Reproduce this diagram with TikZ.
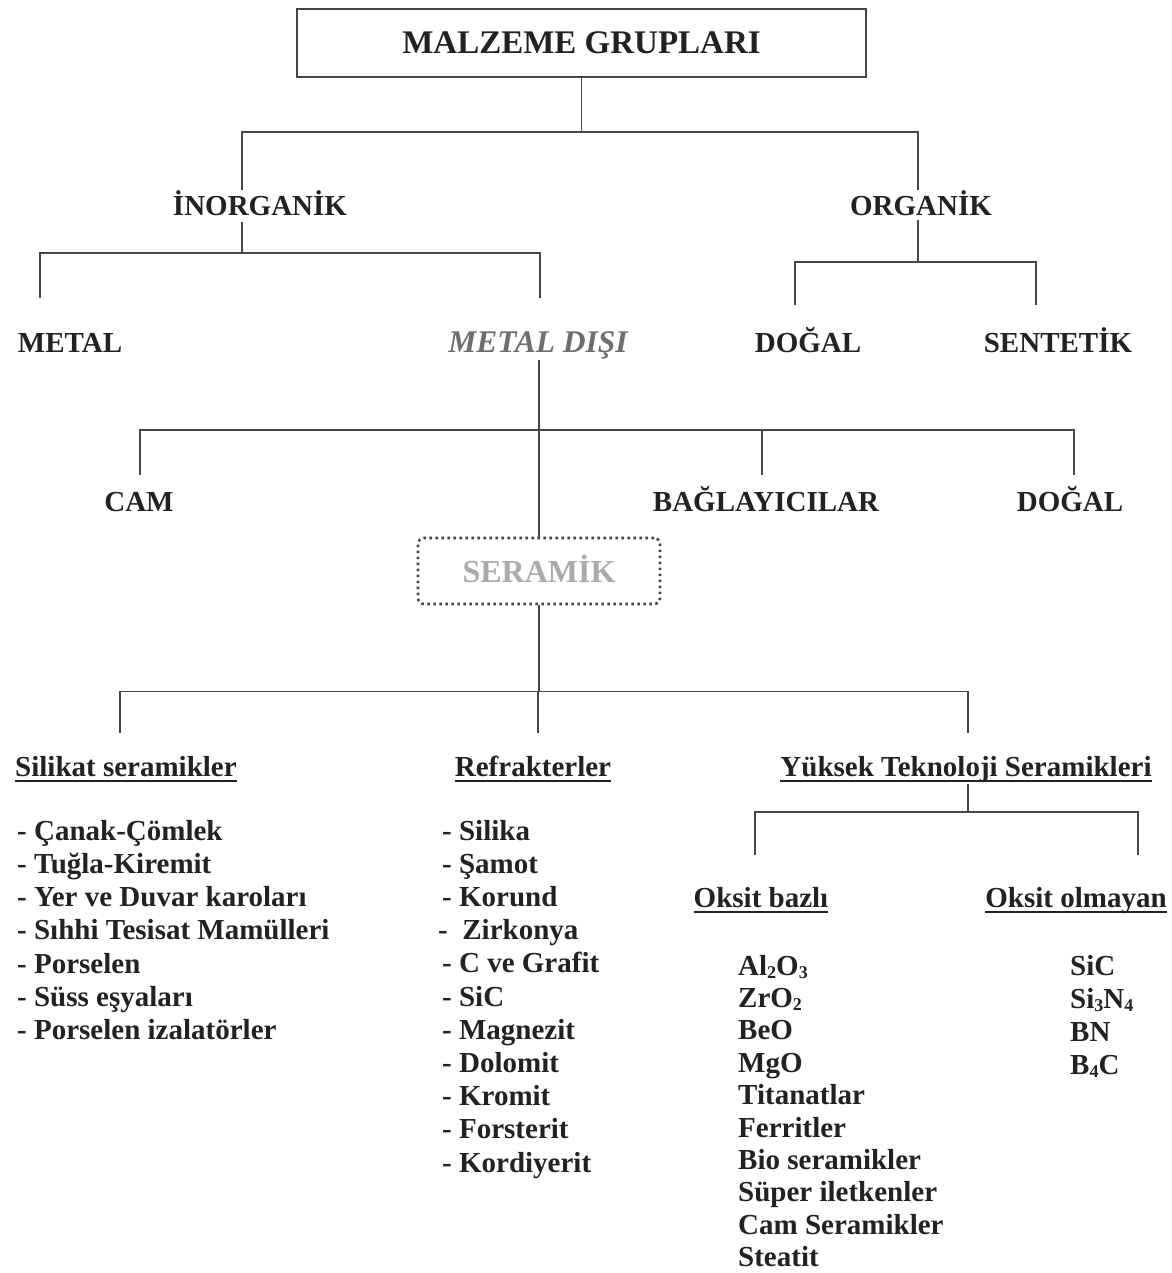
\documentclass[tikz,border=0pt]{standalone}
\usepackage{fontspec}
\setmainfont{Liberation Serif}
\usetikzlibrary{calc}

\definecolor{ink}{HTML}{222222}
\definecolor{wire}{HTML}{464646}
\definecolor{greytext}{HTML}{6E6E6E}
\definecolor{palegrey}{HTML}{AAAAAA}

% small chemical index
\newcommand{\idx}[1]{\raisebox{-3pt}{\fontsize{18}{18}\selectfont #1}}

\begin{document}
\begin{tikzpicture}[x=1pt,y=1pt,
  conn/.style={draw=wire, line width=1.6pt},
  lbl/.style={font=\fontsize{29}{33}\selectfont\bfseries, text=ink,
    inner xsep=0pt, inner ysep=0pt, text height=20pt, text depth=0pt, anchor=base},
  item/.style={lbl, anchor=base west},
  ulin/.style={draw=ink, line width=1.8pt},
]
\fill[white] (0,0) rectangle (1171,-1273);
\useasboundingbox (0,0) rectangle (1171,-1273);

% root
\node[draw=wire, line width=2pt, minimum width=569pt, minimum height=68pt, inner sep=0pt,
      text height=22pt, text depth=0pt,
      font=\fontsize{33}{36}\selectfont\bfseries, text=ink] (top) at (581.5,-43) {MALZEME GRUPLARI};

% first and second level
\node[lbl] (inorg) at (260,-216) {İNORGANİK};
\node[lbl] (org) at (921,-216) {ORGANİK};
\node[lbl] (metal) at (70,-352) {METAL};
\node[lbl, font=\fontsize{31.5}{33}\selectfont\bfseries\itshape, text=greytext] (mdisi) at (538,-352) {METAL DIŞI};
\node[lbl] (dogal1) at (808,-352) {DOĞAL};
\node[lbl] (sent) at (1058,-352) {SENTETİK};

% non-metal groups
\node[lbl] (cam) at (139,-511) {CAM};
\node[lbl] (bag) at (766,-511) {BAĞLAYICILAR};
\node[lbl] (dogal2) at (1070,-511) {DOĞAL};
\node[draw=wire, dash pattern=on 2.6pt off 3.4pt, line width=2.6pt, rounded corners=6pt,
      minimum width=242pt, minimum height=66pt, inner sep=0pt, text height=22pt, text depth=0pt,
      font=\fontsize{32}{36}\selectfont\bfseries, text=palegrey] (ser) at (539,-571) {SERAMİK};

% ceramic families
\node[lbl, anchor=base west] (sil) at (15,-776) {Silikat seramikler};
\node[lbl] (ref) at (533,-776) {Refrakterler};
\node[lbl] (yuk) at (966,-776) {Yüksek Teknoloji Seramikleri};
\node[lbl] (ob) at (761,-907) {Oksit bazlı};
\node[lbl] (oo) at (1076,-907) {Oksit olmayan};
\foreach \n in {sil,ref,yuk,ob,oo}
  \draw[ulin] ([yshift=-5pt]\n.base west) -- ([yshift=-5pt]\n.base east);

% lists
\foreach \t [count=\i from 0] in {- Çanak-Çömlek, - Tuğla-Kiremit, - Yer ve Duvar karoları,
    - Sıhhi Tesisat Mamülleri, - Porselen, - Süss eşyaları, - Porselen izalatörler}
  \node[item] (sil-\i) at (17,{-840-33.25*\i}) {\t};
\foreach \t [count=\i from 0] in {- Silika, - Şamot, - Korund, -~~Zirkonya, - C ve Grafit,
    - SiC, - Magnezit, - Dolomit, - Kromit, - Forsterit, - Kordiyerit}
  \node[item] (ref-\i) at ({\i==3 ? 438 : 442},{-840-33.2*\i}) {\t};
\foreach \t [count=\i from 0] in {Al\idx{2}O\idx{3}, ZrO\idx{2}, BeO, MgO,
    Titanatlar, Ferritler, Bio seramikler, Süper iletkenler, Cam Seramikler, Steatit}
  \node[item] (ob-\i) at (738,{-975-32.4*\i}) {\t};
\foreach \t [count=\i from 0] in {SiC, Si\idx{3}N\idx{4}, BN, B\idx{4}C}
  \node[item] (oo-\i) at (1070,{-975-33*\i}) {\t};

% connectors
\draw[conn] (top.south) -- ++(0,-54) coordinate (j1);
\draw[conn] ([shift={(-18,6)}]inorg.north) |- (j1) -| ([shift={(-3,6)}]org.north);

\draw[conn] ([shift={(-18,-6)}]inorg.south) -- ++(0,-31) coordinate (j2);
\draw[conn] ([shift={(-30,34)}]metal.north) |- (j2) -| ([shift={(2,34)}]mdisi.north);

\draw[conn] ([shift={(-3,-4)}]org.south) -- ++(0,-42) coordinate (j3);
\draw[conn] ([shift={(-13,27)}]dogal1.north) |- (j3) -| ([shift={(-22,27)}]sent.north);

\draw[conn] (ser.north) -- ([yshift=-8pt]ser.north |- mdisi.south);
\path (ser.north) -- ++(0,107) coordinate (j4);
\draw[conn] ([shift={(1,16)}]cam.north) |- (j4) -| ([shift={(4,16)}]dogal2.north);
\draw[conn] ([shift={(-4,16)}]bag.north) |- (j4);

\draw[conn] (ser.south) -- ++(0,-86) coordinate (j5);
\draw[conn] ([shift={(-6,23)}]sil.north) |- (j5) -| ([shift={(2,23)}]yuk.north);
\draw[conn] ([shift={(5,23)}]ref.north) |- (j5);

\draw[conn] ([shift={(2,-8)}]yuk.south) -- ++(0,-28) coordinate (j6);
\draw[conn] ([shift={(-6,32)}]ob.north) |- (j6) -| ([shift={(62,32)}]oo.north);
\end{tikzpicture}
\end{document}
